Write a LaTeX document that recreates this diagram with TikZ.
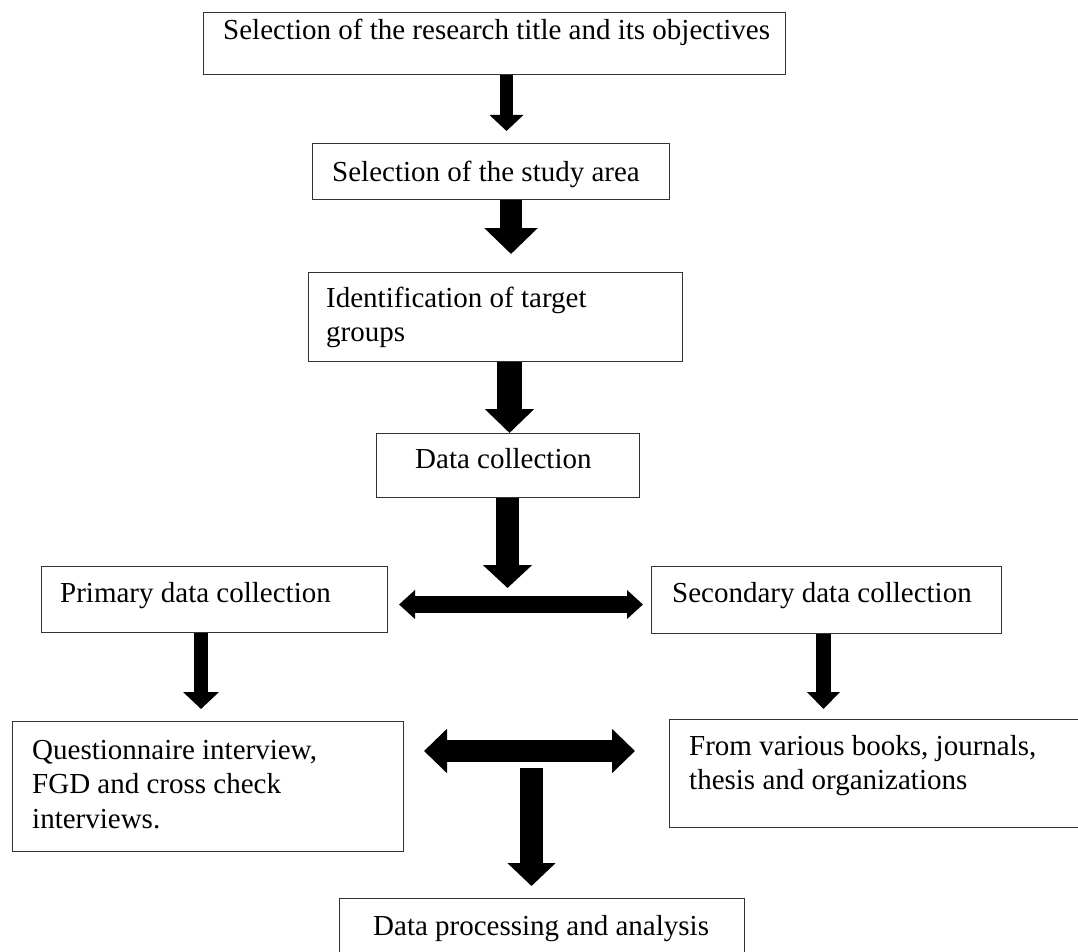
\documentclass[tikz,border=0pt]{standalone}
\usepackage{fontspec}
\setmainfont{Liberation Serif}
\usetikzlibrary{arrows.meta}
\tikzset{
  box/.style={draw=black!80, line width=1.2pt, rectangle, inner sep=0pt, anchor=north west},
  txt/.style={anchor=base west, inner sep=0pt, font=\fontsize{29}{34.5}\selectfont},
  blk/.style={line width=#1, draw=black},
}
\newcommand{\boxat}[5]{\node[box, minimum width=#3pt-#1pt, minimum height=#4pt-#2pt] (#5) at (#1,#2) {};}
\begin{document}
\begin{tikzpicture}[x=1pt,y=-1pt]
\useasboundingbox (0,0) rectangle (1078,952);
% boxes
\boxat{203}{12}{785}{74}{b1}
\boxat{312}{143}{669}{199}{b2}
\boxat{308}{272}{682}{361}{b3}
\boxat{376}{433}{639}{497}{b4}
\boxat{41}{566}{387}{632}{prim}
\boxat{651}{566}{1001}{633}{sec}
\boxat{12}{721}{403}{851}{q}
\boxat{669}{719}{1080}{827}{fr}
\boxat{339}{898}{744}{962}{dp}
% texts
\node[txt] (t1) at (223,40) {Selection of the research title and its objectives};
\node[txt] (t2) at (332,182) {Selection of the study area};
\node[txt] (t3) at (326,307) {\parbox[t]{340pt}{Identification of target\\groups}};
\node[txt] (t4) at (415,468) {Data collection};
\node[txt] (t5) at (60,602) {Primary data collection};
\node[txt] (t6) at (672,602) {Secondary data collection};
\node[txt] (t7) at (32,759) {\parbox[t]{360pt}{Questionnaire interview,\\FGD and cross check\\interviews.}};
\node[txt] (t8) at (689,755) {\parbox[t]{380pt}{From various books, journals,\\thesis and organizations}};
\node[txt] (t9) at (373,935) {Data processing and analysis};
% coordinates for free arrow ends
\coordinate (j1) at (507.5,588);
\coordinate (d1l) at (399,604.5);
\coordinate (d1r) at (643,604.5);
\coordinate (d2l) at (424,751);
\coordinate (d2r) at (635,751);
\coordinate (j2) at (531.5,768);
% arrows
\draw[blk=13pt, -{Triangle[width=33pt,length=16pt]}, shorten >=12pt] (506.5,0 |- b1.south) -- (506.5,0 |- b2.north);
\draw[blk=22pt, -{Triangle[width=52pt,length=26pt]}, shorten >=18pt] (511,0 |- b2.south) -- (511,0 |- b3.north);
\draw[blk=25pt, -{Triangle[width=48pt,length=24pt]}] (509.5,0 |- b3.south) -- (509.5,0 |- b4.north);
\draw[blk=23pt, -{Triangle[width=48pt,length=23pt]}] (507.5,0 |- b4.south) -- (j1);
\draw[blk=17pt, {Triangle[width=28pt,length=16pt]}-{Triangle[width=28pt,length=16pt]}] (d1l) -- (d1r);
\draw[blk=14pt, -{Triangle[width=35pt,length=17pt]}, shorten >=12pt] (201,0 |- prim.south) -- (201,0 |- q.north);
\draw[blk=15pt, -{Triangle[width=32pt,length=17pt]}, shorten >=10pt] (823.5,0 |- sec.south) -- (823.5,0 |- fr.north);
\draw[blk=22pt, {Triangle[width=43pt,length=23pt]}-{Triangle[width=43pt,length=23pt]}] (d2l) -- (d2r);
\draw[blk=23pt, -{Triangle[width=47pt,length=23pt]}, shorten >=12pt] (j2) -- (531.5,0 |- dp.north);
\end{tikzpicture}
\end{document}
